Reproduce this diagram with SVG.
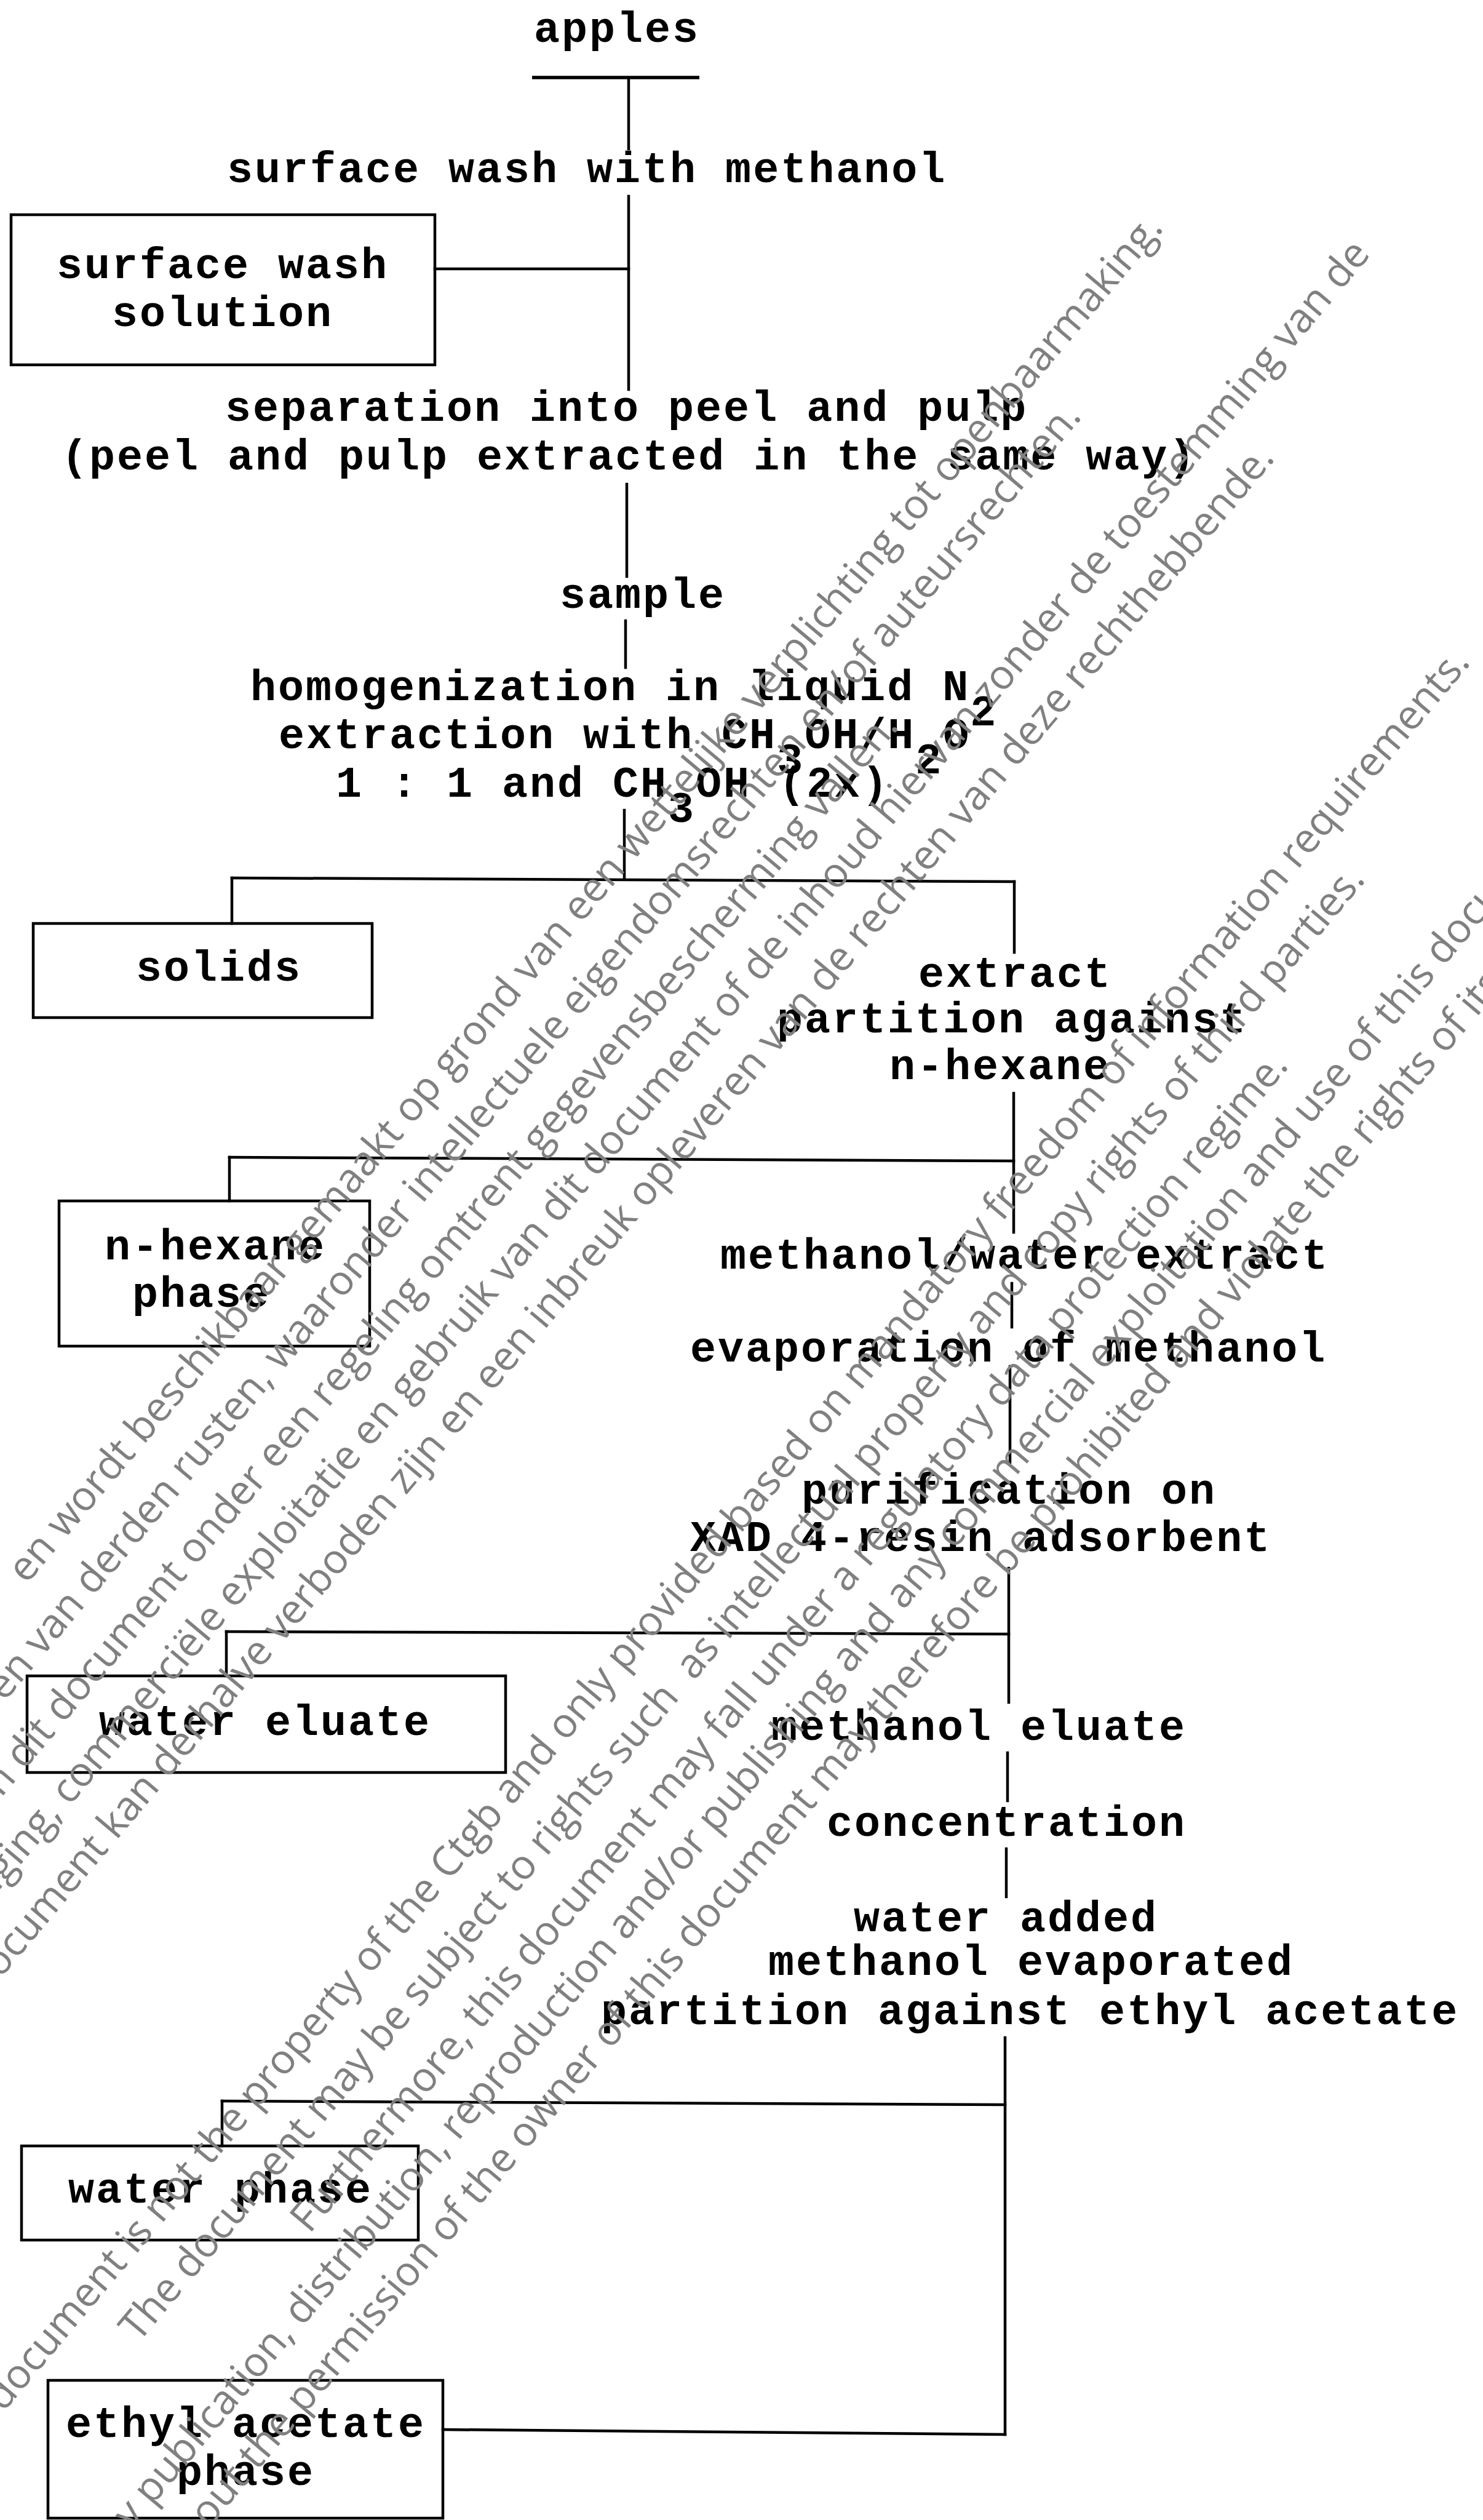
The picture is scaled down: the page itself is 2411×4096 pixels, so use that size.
<svg xmlns="http://www.w3.org/2000/svg" width="2411" height="4096" viewBox="0 0 2411 4096">
<style>
.t{font-family:"Liberation Mono","Courier New",monospace;font-weight:bold;font-size:70px;letter-spacing:3px;fill:#000}
.ln{stroke:#000;stroke-width:4.5;fill:none;stroke-linecap:square}
.bx{stroke:#000;stroke-width:4.5;fill:none}
.wm{font-family:"Open Sans","Noto Sans",sans-serif;font-size:66.5px;fill:#808080}
</style>
<rect x="0" y="0" width="2411" height="4096" fill="#fff"/>
<g id="connectors">
<path class="ln" d="M1022,128 V242"/>
<path class="ln" d="M1022,319 V633"/>
<path class="ln" d="M707,437 H1022"/>
<path class="ln" d="M1019,787 V937"/>
<path class="ln" d="M1017,1009 V1085"/>
<path class="ln" d="M1015,1317 V1428"/>
<path class="ln" d="M377,1427 L1649,1433"/>
<path class="ln" d="M377,1427 V1501"/>
<path class="ln" d="M1649,1433 V1548"/>
<path class="ln" d="M1648,1777 V2003"/>
<path class="ln" d="M373,1881 L1648,1887"/>
<path class="ln" d="M373,1881 V1952"/>
<path class="ln" d="M1645,2086 V2157"/>
<path class="ln" d="M1642,2221 V2377"/>
<path class="ln" d="M1640,2549 V2767"/>
<path class="ln" d="M368,2652 L1640,2656"/>
<path class="ln" d="M368,2652 V2724"/>
<path class="ln" d="M1638,2849 V2927"/>
<path class="ln" d="M1636,3005 V3083"/>
<path class="ln" d="M1634,3312 V3957"/>
<path class="ln" d="M361,3415 L1634,3421"/>
<path class="ln" d="M361,3415 V3488"/>
<path class="ln" d="M720,3949 L1634,3957"/>
</g>
<g id="apples"><text class="t" x="868" y="68">apples</text><path d="M865,126 H1137" stroke="#000" stroke-width="5.5"/></g>
<g id="surface-wash"><text class="t" x="369" y="296">surface wash with methanol</text></g>
<g id="surface-wash-solution"><rect class="bx" x="18" y="349" width="689" height="244"/><text class="t" x="92" y="452">surface wash</text><text class="t" x="182" y="530">solution</text></g>
<g id="separation"><text class="t" x="366" y="684">separation into peel and pulp</text><text class="t" x="100" y="763">(peel and pulp extracted in the same way)</text></g>
<g id="sample"><text class="t" x="910" y="988">sample</text></g>
<g id="homogenization">
<text class="t" x="407" y="1138">homogenization in liquid N<tspan dy="41">2</tspan></text>
<text class="t" x="453" y="1216">extraction with CH<tspan dy="41">3</tspan><tspan dy="-41">OH/H</tspan><tspan dy="41">2</tspan><tspan dy="-41">O</tspan></text>
<text class="t" x="546" y="1295">1 : 1 and CH<tspan dy="41">3</tspan><tspan dy="-41">OH (2x)</tspan></text>
</g>
<g id="solids"><rect class="bx" x="54" y="1501" width="551" height="153"/><text class="t" x="221" y="1594">solids</text></g>
<g id="extract"><text class="t" x="1493" y="1604">extract</text><text class="t" x="1263" y="1678">partition against</text><text class="t" x="1446" y="1754">n-hexane</text></g>
<g id="n-hexane-phase"><rect class="bx" x="96" y="1952" width="505" height="236"/><text class="t" x="170" y="2047">n-hexane</text><text class="t" x="215" y="2124">phase</text></g>
<g id="methanol-water-extract"><text class="t" x="1171" y="2062">methanol/water extract</text></g>
<g id="evaporation"><text class="t" x="1122" y="2213">evaporation of methanol</text></g>
<g id="purification"><text class="t" x="1303" y="2444">purification on</text><text class="t" x="1122" y="2521">XAD 4-resin adsorbent</text></g>
<g id="water-eluate"><rect class="bx" x="44" y="2724" width="778" height="157"/><text class="t" x="161" y="2820">water eluate</text></g>
<g id="methanol-eluate"><text class="t" x="1254" y="2828">methanol eluate</text></g>
<g id="concentration"><text class="t" x="1344" y="2984">concentration</text></g>
<g id="partition-ethyl"><text class="t" x="1388" y="3139">water added</text><text class="t" x="1249" y="3210">methanol evaporated</text><text class="t" x="977" y="3290">partition against ethyl acetate</text></g>
<g id="water-phase"><rect class="bx" x="35" y="3488" width="645" height="153"/><text class="t" x="111" y="3580">water phase</text></g>
<g id="ethyl-acetate-phase"><rect class="bx" x="78" y="3869" width="642" height="224"/><text class="t" x="107" y="3961">ethyl acetate</text><text class="t" x="287" y="4039">phase</text></g>
<g id="watermark" transform="rotate(-50)">
<text class="wm" x="932" y="1689" text-anchor="end">en wordt beschikbaar gemaakt op grond van een wettelijke verplichting tot openbaarmaking.</text>
<text class="wm" x="612" y="1784" text-anchor="end">en van derden rusten, waaronder intellectuele eigendomsrechten en/of auteursrechten.</text>
<text class="wm" x="35" y="1880" text-anchor="end">Ook kan dit document onder een regeling omtrent gegevensbescherming vallen.</text>
<text class="wm" x="1116" y="1974" text-anchor="end">Verveelvoudiging, commerciële exploitatie en gebruik van dit document of de inhoud hiervan zonder de toestemming van de</text>
<text class="wm" x="762" y="2068" text-anchor="end">Het document kan derhalve verboden zijn en een inbreuk opleveren van de rechten van deze rechthebbende.</text>
<text class="wm" x="712" y="2525" text-anchor="end">This document is not the property of the Ctgb and only provided based on mandatory freedom of information requirements.</text>
<text class="wm" x="332" y="2621" text-anchor="end">The document may be subject to rights such&#160; as intellectual property and copy rights of third parties.</text>
<text class="wm" x="20" y="2720" text-anchor="end">Furthermore, this document may fall under a regulatory data protection regime.</text>
<text class="wm" x="-2599" y="2808" text-anchor="end">Any publication,</text>
<text class="wm" x="-2582" y="2808">distribution, reproduction and/or publishing and any commercial exploitation and use of this document</text>
<text class="wm" x="-2345" y="2902" text-anchor="end">without the permission</text>
<text class="wm" x="-2328" y="2902">of the owner of this document may therefore be prohibited and violate the rights of its owner.</text>
</g>
</svg>
